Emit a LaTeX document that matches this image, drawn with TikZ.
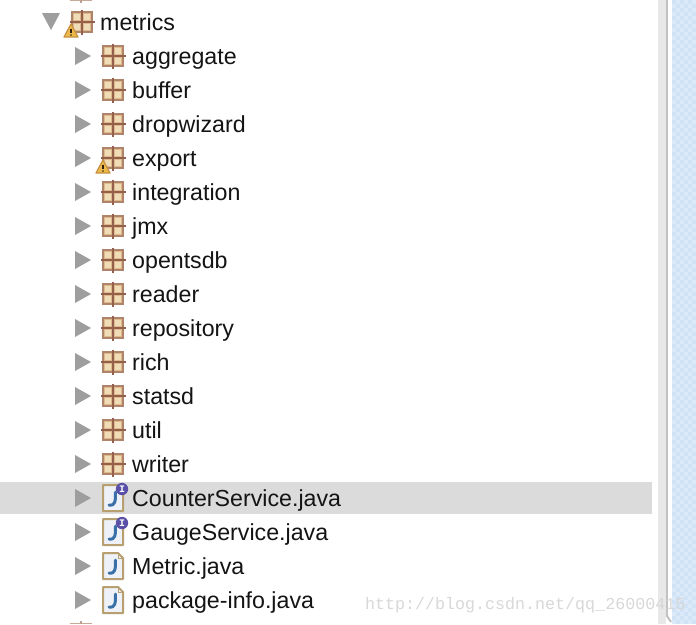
\documentclass[tikz,border=0pt]{standalone}
\usepackage{fontspec}
\setmainfont{Liberation Sans}
\newfontfamily\wmfont{Liberation Mono}
\tikzset{
  x=1pt,y=-1pt,
  rowlabel/.style={anchor=base west,inner sep=0pt,text=black!92,font=\fontsize{23.2}{26}\selectfont},
  twisty/.style={fill=black!38,draw=none},
  pkgcross/.style={draw=pkgdark,line width=2pt},
  pagebox/.style={fill=pagefill,draw=pageline,line width=2pt,line join=round},
}
\definecolor{pkgtan}{HTML}{DDB98C}
\definecolor{pkglight}{HTML}{F0DDB8}
\definecolor{pkgline}{HTML}{B0846A}
\definecolor{pkgdark}{HTML}{94604C}
\definecolor{pageline}{HTML}{B79F70}
\definecolor{pagefill}{HTML}{EEF2F8}
\definecolor{jblue}{HTML}{3A70A8}
\definecolor{badge}{HTML}{5A50A8}
\definecolor{checka}{HTML}{D0E2F6}
\definecolor{checkb}{HTML}{DCE9F8}
\definecolor{warnfill}{HTML}{EDB94A}
\definecolor{warnline}{HTML}{C89040}
\newcommand{\pkgicon}[2]{%
  \fill[pkgtan] (#1-10,#2-10) rectangle (#1+10,#2+10);
  \foreach \sx/\sy in {-5/-5,5/-5,-5/5,5/5}{%
    \fill[pkglight] (#1+\sx-2.6,#2+\sy-2.6) rectangle (#1+\sx+2.6,#2+\sy+2.6);}
  \draw[pkgline,line width=1.6pt] (#1-10,#2-10) rectangle (#1+10,#2+10);
  \draw[pkgcross] (#1-12.5,#2) -- (#1+12.5,#2);
  \draw[pkgcross] (#1,#2-12.5) -- (#1,#2+12.5);
}
\newcommand{\warnicon}[2]{%
  \fill[warnfill,draw=warnline,line width=1.2pt,line join=round]
    (#1,#2-7) -- (#1+7,#2+6) -- (#1-7,#2+6) -- cycle;
  \draw[black!75!brown,line width=1.6pt] (#1,#2-2.5) -- (#1,#2+1.8);
  \fill[black!75!brown] (#1,#2+3.9) circle (.9);
}
\newcommand{\pageicon}[2]{%
  \draw[pagebox] (#1-10,#2-13) -- (#1+5,#2-13) -- (#1+10,#2-8) -- (#1+10,#2+13) -- (#1-10,#2+13) -- cycle;
  \draw[pageline,line width=1pt] (#1+5,#2-13) -- (#1+5,#2-8) -- (#1+10,#2-8);
  \draw[jblue,line width=3pt,line cap=round] (#1+2.5,#2-6) .. controls (#1+2.5,#2+3) and (#1+2.5,#2+8) .. (#1-4,#2+7);
}
\newcommand{\badgeicon}[2]{%
  \fill[badge] (#1+9,#2-9) circle (6.2);
  \node[inner sep=0pt,text=white,font=\fontsize{10}{10}\bfseries\wmfont] at (#1+9,#2-9) {I};
}
\begin{document}
\begin{tikzpicture}
\useasboundingbox (0,0) rectangle (696,624);
\fill[white] (0,0) rectangle (696,624);
% right pane
\fill[checka] (672,0) rectangle (696,624);
\foreach \i in {0,...,5}{\foreach \j in {0,...,155}{%
  \pgfmathtruncatemacro{\odd}{mod(\i+\j,2)}%
  \ifnum\odd=1 \fill[checkb] (672+4*\i,4*\j) rectangle +(4,4);\fi}}
\fill[black!9] (658,0) rectangle (666,624);
\draw[black!24,line width=2pt] (667,0) -- (667,616) -- (671,622);
\fill[white] (668,0) rectangle (672,614);
% selection
\fill[black!14] (0,482) rectangle (652,514);
% cut-off icons at top and bottom
\draw[pkgline!70!white,line width=1.5pt] (70,0.5) -- (92,0.5);
\draw[pkgdark!60!white,line width=1.5pt] (81,0) -- (81,3);
\draw[pkgline!70!white,line width=1.5pt] (70,623.5) -- (92,623.5);
\draw[pkgdark!60!white,line width=1.5pt] (81,621) -- (81,624);
% metrics row
\fill[twisty] (42,13) -- (60,13) -- (51,30) -- cycle;
\pkgicon{82}{22}
\warnicon{71}{31}
\node[rowlabel] (metrics) at (100,30) {metrics};
% package rows
\foreach \nm/\yy in {aggregate/56,buffer/90,dropwizard/124,export/158,integration/192,jmx/226,opentsdb/260,reader/294,repository/328,rich/362,statsd/396,util/430,writer/464}{
  \fill[twisty] (75,\yy-9) -- (91,\yy) -- (75,\yy+9) -- cycle;
  \pkgicon{113}{\yy}
  \node[rowlabel] (row-\nm) at (132,\yy+8) {\nm};
}
\warnicon{103}{167}
% file rows
\foreach \nm/\yy/\lab/\hasbadge in {counter/498/CounterService.java/1,gauge/532/GaugeService.java/1,metric/566/Metric.java/0,pkginfo/600/package-info.java/0}{
  \fill[twisty] (75,\yy-9) -- (91,\yy) -- (75,\yy+9) -- cycle;
  \pageicon{113}{\yy}
  \ifnum\hasbadge=1 \badgeicon{113}{\yy}\fi
  \node[rowlabel] (row-\nm) at (132,\yy+8) {\lab};
}
% watermark
\node[anchor=base west,inner sep=0pt,text=black!17,font=\fontsize{16.67}{18}\wmfont,opacity=.9] (wm) at (365,609) {http://blog.csdn.net/qq\_26000415};
\end{tikzpicture}
\end{document}
